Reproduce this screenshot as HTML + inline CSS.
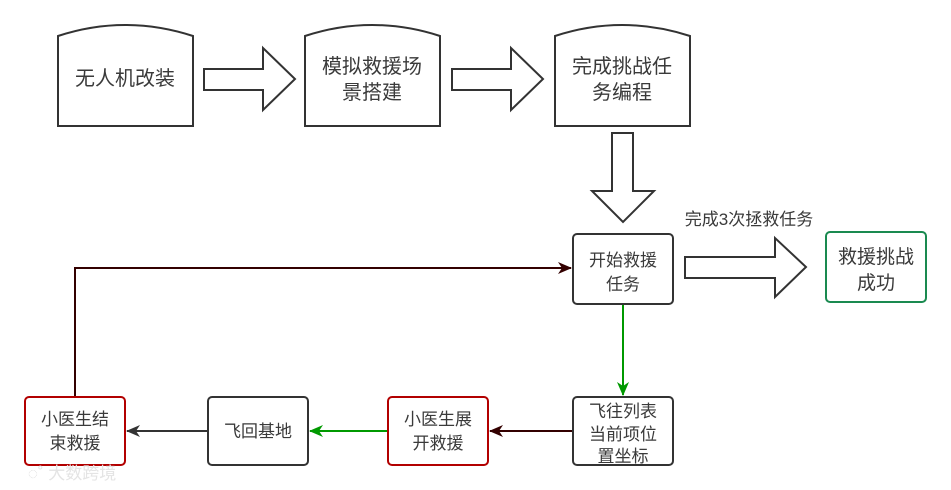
<!DOCTYPE html>
<html><head><meta charset="utf-8"><style>
html,body{margin:0;padding:0;background:#fff;width:951px;height:490px;overflow:hidden}
svg text{font-family:"Liberation Sans","Noto Sans CJK SC",sans-serif;font-size:17px;fill:#3a3a3a;text-anchor:middle}
svg text.b{font-size:20px}
svg text.c{font-size:19px}
</style></head><body>
<svg width="951" height="490" viewBox="0 0 951 490" xmlns="http://www.w3.org/2000/svg">
<defs>
<marker id="mr" markerWidth="14" markerHeight="14" refX="13" refY="7" orient="auto" markerUnits="userSpaceOnUse"><path d="M0,1 L14,7 L0,13 L4,7 Z" fill="#330000"/></marker>
<marker id="mg" markerWidth="14" markerHeight="14" refX="13" refY="7" orient="auto" markerUnits="userSpaceOnUse"><path d="M0,1 L14,7 L0,13 L4,7 Z" fill="#009900"/></marker>
<marker id="mk" markerWidth="14" markerHeight="14" refX="13" refY="7" orient="auto" markerUnits="userSpaceOnUse"><path d="M0,1 L14,7 L0,13 L4,7 Z" fill="#333"/></marker>
</defs>
<g fill="#fff" stroke="#333" stroke-width="2">
<path d="M58,36 Q125,14 193,36 L193,126 L58,126 Z"/>
<path d="M305,36 Q372,14 440,36 L440,126 L305,126 Z"/>
<path d="M555,36 Q622,14 690,36 L690,126 L555,126 Z"/>
<path d="M204,69 L263,69 L263,48 L295,79 L263,110 L263,90 L204,90 Z"/>
<path d="M452,69 L511,69 L511,48 L543,79 L511,110 L511,90 L452,90 Z"/>
<path d="M612,133 L633,133 L633,191 L654,191 L623,222 L592,191 L612,191 Z"/>
<path d="M685,257 L775,257 L775,238 L806,267 L775,297 L775,278 L685,278 Z"/>
<rect x="573" y="234" width="100" height="70" rx="4"/>
<rect x="573" y="397" width="100" height="68" rx="4"/>
<rect x="208" y="397" width="100" height="68" rx="4"/>
</g>
<rect x="826" y="232" width="100" height="70" rx="4" fill="#fff" stroke="#1a8a50" stroke-width="2"/>
<rect x="388" y="397" width="100" height="68" rx="4" fill="#fff" stroke="#b20000" stroke-width="2"/>
<rect x="25" y="397" width="100" height="68" rx="4" fill="#fff" stroke="#b20000" stroke-width="2"/>
<g fill="none" stroke-width="2">
<path d="M75,396 L75,268 L571,268" stroke="#330000" marker-end="url(#mr)"/>
<path d="M623,305 L623,395" stroke="#009900" marker-end="url(#mg)"/>
<path d="M572,431 L490,431" stroke="#330000" marker-end="url(#mr)"/>
<path d="M387,431 L310,431" stroke="#009900" marker-end="url(#mg)"/>
<path d="M207,431 L127,431" stroke="#333" marker-end="url(#mk)"/>
</g>
<text class="b" x="125" y="85">无人机改装</text>
<text class="b" x="372" y="73">模拟救援场</text><text class="b" x="372" y="99">景搭建</text>
<text class="b" x="622" y="73">完成挑战任</text><text class="b" x="622" y="99">务编程</text>
<text class="c" x="876" y="263">救援挑战</text><text class="c" x="876" y="289">成功</text>
<text x="749" y="225">完成3次拯救任务</text>
<text x="623" y="266">开始救援</text><text x="623" y="290">任务</text>
<text x="623" y="417">飞往列表</text><text x="623" y="440">当前项位</text><text x="623" y="462">置坐标</text>
<text x="438" y="425">小医生展</text><text x="438" y="449">开救援</text>
<text x="258" y="437">飞回基地</text>
<text x="75" y="425">小医生结</text><text x="75" y="449">束救援</text>
<text x="72" y="479" style="fill:#e4e4e4">◌˚ 大数跨境</text>
</svg>
</body></html>
